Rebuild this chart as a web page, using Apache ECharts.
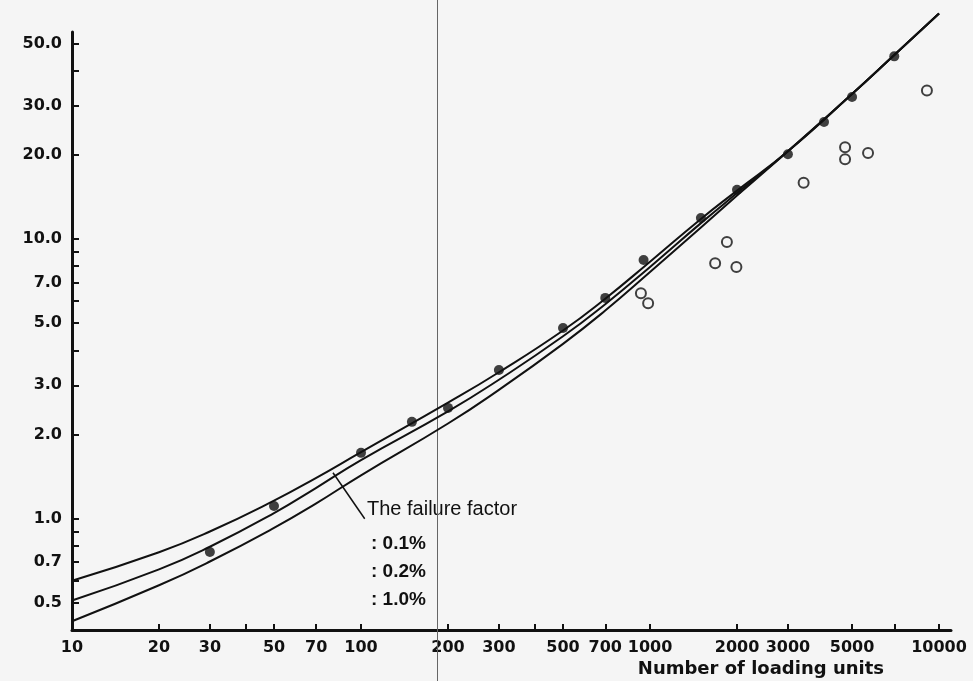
<!DOCTYPE html>
<html>
<head>
<meta charset="utf-8">
<script src="https://cdn.jsdelivr.net/npm/echarts@6/dist/echarts.min.js"></script>
<style>
  html, body { margin: 0; padding: 0; background: #f5f5f5; }
  #chart { width: 973px; height: 681px; }
</style>
</head>
<body>
<div id="chart"></div>
<script>
// 数据
const curveX = [10, 20, 30, 50, 70, 100, 200, 300, 500, 700, 1000, 1500, 2000, 3000, 5000, 7000, 10000];
const curve01 = [0.60, 0.759, 0.90, 1.16, 1.40, 1.73, 2.60, 3.34, 4.71, 6.12, 8.3, 11.8, 14.9, 20.6, 33, 45.5, 64];
const curve02 = [0.51, 0.659, 0.794, 1.047, 1.29, 1.62, 2.42, 3.14, 4.49, 5.85, 7.95, 11.4, 14.6, 20.6, 33, 45.5, 64];
const curve10 = [0.43, 0.578, 0.703, 0.927, 1.135, 1.43, 2.19, 2.89, 4.22, 5.55, 7.62, 11.0, 14.3, 20.6, 33, 45.5, 64];

// 实心点
const filledX = [30, 50, 100, 150, 200, 300, 500, 700, 950, 1500, 2000, 3000, 4000, 5000, 7000];
const filledY = [0.76, 1.11, 1.72, 2.22, 2.49, 3.4, 4.81, 6.16, 8.41, 11.9, 15.0, 20.1, 26.2, 32.2, 45];

// 空心点
const openX = [930, 985, 1680, 1845, 1990, 3400, 4730, 4730, 5680, 9080];
const openY = [6.4, 5.9, 8.2, 9.76, 7.94, 15.9, 21.3, 19.3, 20.3, 34];

// 刻度
const xLabels = [10, 20, 30, 50, 70, 100, 200, 300, 500, 700, 1000, 2000, 3000, 5000, 10000];
const xTicks = [20, 30, 40, 50, 70, 100, 200, 300, 400, 500, 700, 1000, 2000, 3000, 5000, 7000, 10000];
const yLabels = [0.5, 0.7, 1, 2, 3, 5, 7, 10, 20, 30, 50];
const yTicks = [0.5, 0.6, 0.7, 0.8, 0.9, 1, 2, 3, 4, 5, 6, 7, 8, 9, 10, 20, 30, 40, 50];

const legendLines = [': 0.1%', ': 0.2%', ': 1.0%'];

const zip = (xs, ys) => xs.map((x, i) => [x, ys[i]]);

const labelFont = { color: '#111', fontFamily: 'DejaVu Sans', fontWeight: 'bold', fontSize: 16 };

function curve(name, ys) {
    return {
        name: name,
        type: 'line',
        data: zip(curveX, ys),
        smooth: 0.5,
        symbol: 'none',
        clip: false,
        lineStyle: { color: '#111', width: 2 },
        z: 2
    };
}

let chart = echarts.init(document.getElementById('chart'));
chart.setOption({
    backgroundColor: '#f5f5f5',
    animation: false,
    grid: { left: 72, right: 22, top: 32, bottom: 51 },
    xAxis: {
        type: 'log',
        min: 10,
        max: 11000,
        name: 'Number of loading units',
        nameLocation: 'end',
        nameGap: -67,
        nameTextStyle: {
            color: '#111', fontFamily: 'DejaVu Sans', fontWeight: 'bold', fontSize: 18,
            align: 'right', verticalAlign: 'top', padding: [30, 0, 0, 0]
        },
        axisLine: { lineStyle: { color: '#111', width: 3 } },
        axisTick: { inside: true, length: 6, customValues: xTicks, lineStyle: { color: '#111', width: 2 } },
        axisLabel: Object.assign({ customValues: xLabels, margin: 10, formatter: v => String(Math.round(v)) }, labelFont),
        splitLine: { show: false },
        minorTick: { show: false }
    },
    yAxis: {
        type: 'log',
        min: 0.4,
        max: 55,
        axisLine: { lineStyle: { color: '#111', width: 3 } },
        axisTick: { inside: true, length: 7, customValues: yTicks, lineStyle: { color: '#111', width: 2 } },
        axisLabel: Object.assign({ customValues: yLabels, margin: 10, formatter: v => Number(v).toFixed(1) }, labelFont),
        splitLine: { show: false }
    },
    series: [
        Object.assign(curve('0.1%', curve01), {
            markLine: {
                silent: true,
                symbol: 'none',
                label: { show: false },
                lineStyle: { color: '#111', width: 1.5, type: 'solid' },
                data: [[{ coord: [80, 1.46] }, { coord: [103, 1.0] }]]
            }
        }),
        curve('0.2%', curve02),
        curve('1.0%', curve10),
        {
            name: 'filled',
            type: 'scatter',
            data: zip(filledX, filledY),
            symbol: 'circle',
            symbolSize: 10,
            itemStyle: { color: '#111' },
            z: 3
        },
        {
            name: 'open',
            type: 'scatter',
            data: zip(openX, openY),
            symbol: 'circle',
            symbolSize: 10,
            itemStyle: { color: '#f5f5f5', borderColor: '#111', borderWidth: 2 },
            z: 3
        }
    ],
    graphic: [
        // 扫描折痕
        { type: 'rect', shape: { x: 437, y: 0, width: 1, height: 681 }, style: { fill: '#666' }, z: 1 },
        {
            type: 'text', left: 367, top: 499,
            style: { text: 'The failure factor', font: '20px "Liberation Sans"', fill: '#111' }
        },
        {
            type: 'text', left: 371, top: 530,
            style: { text: legendLines.join('\n'), font: 'bold 19px "Liberation Sans"', fill: '#111', lineHeight: 28 }
        }
    ]
});
</script>
</body>
</html>
